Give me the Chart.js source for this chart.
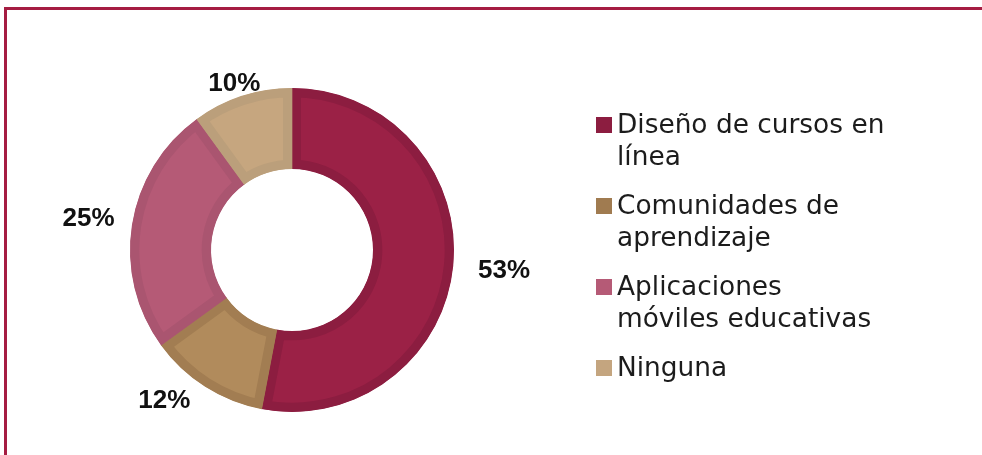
<!DOCTYPE html>
<html lang="es">
<head>
<meta charset="utf-8">
<title>Herramientas digitales</title>
<script src="https://cdn.jsdelivr.net/npm/chart.js@4.4.1/dist/chart.umd.min.js"></script>
<style>
    html, body { margin: 0; padding: 0; background: #fff; }
    body { width: 982px; height: 455px; position: relative; overflow: hidden; }
    .frame {
        position: absolute; left: 4px; top: 7px; right: -10px; bottom: -10px;
        border-top: 3px solid #a51d42; border-left: 3px solid #a51d42;
    }
    #chartWrap { position: absolute; left: 0; top: 0; width: 982px; height: 455px; }
    #legend {
        position: absolute; left: 596px; top: 108px; margin: 0; padding: 0; list-style: none;
        font-family: "DejaVu Sans", sans-serif; font-size: 26.4px; line-height: 32px; color: #1c1c1c;
    }
    #legend li { position: relative; padding-left: 21px; margin-bottom: 17px; white-space: nowrap; }
    #legend li span.sw {
        position: absolute; left: 0; top: 9px; width: 16px; height: 16px;
    }
</style>
</head>
<body>
<div class="frame"></div>
<div id="chartWrap"><canvas id="donut"></canvas></div>
<ul id="legend"></ul>
<script>
(function () {
    'use strict';

    var categories = ['Diseño de cursos en línea', 'Comunidades de aprendizaje', 'Aplicaciones móviles educativas', 'Ninguna'];
    // legend lines as they wrap next to the ring
    var legendLines = [['Diseño de cursos en', 'línea'], ['Comunidades de', 'aprendizaje'], ['Aplicaciones', 'móviles educativas'], ['Ninguna']];
    var percents = [53, 12, 25, 10];

    var fills = ['#9b2146', '#b18b5c', '#b55a76', '#c6a67f'];
    var edges = ['#8c1d40', '#a27d52', '#aa5570', '#bb9f7b'];
    var swatches = ['#8c1d40', '#a07b50', '#b55a76', '#c4a57f'];

    // percentage labels outside each slice; pull = px past the rim, turn = degrees along it
    var outsideLabels = {
        id: 'outsideLabels',
        afterDatasetsDraw: function (chart, args, opts) {
            var ctx = chart.ctx;
            var meta = chart.getDatasetMeta(0);
            ctx.save();
            ctx.font = 'bold 26px "Liberation Sans", Arial, sans-serif';
            ctx.fillStyle = '#111';
            ctx.textAlign = 'center';
            ctx.textBaseline = 'middle';
            meta.data.forEach(function (arc, i) {
                var p = arc.getProps(['x', 'y', 'startAngle', 'endAngle', 'outerRadius']);
                var mid = (p.startAngle + p.endAngle) / 2 + (opts.turn[i] || 0) * Math.PI / 180;
                var r = p.outerRadius + opts.pull[i];
                ctx.fillText(percents[i] + '%', p.x + Math.cos(mid) * r, p.y + Math.sin(mid) * r + 1);
            });
            ctx.restore();
        }
    };

    new Chart(document.getElementById('donut'), {
        type: 'doughnut',
        data: {
            labels: categories,
            datasets: [{
                data: percents,
                backgroundColor: fills,
                borderColor: edges,
                borderWidth: 9,
                borderAlign: 'inner',
                hoverOffset: 0
            }]
        },
        options: {
            responsive: true,
            maintainAspectRatio: false,
            animation: false,
            cutout: '50%',
            layout: { padding: { left: 130, right: 528, top: 88, bottom: 43 } },
            plugins: {
                legend: { display: false },
                tooltip: { enabled: false },
                outsideLabels: { pull: [51, 35, 44, 15], turn: [0, 8, 0, -1] }
            }
        },
        plugins: [outsideLabels]
    });

    var list = document.getElementById('legend');
    legendLines.forEach(function (lines, i) {
        var li = document.createElement('li');
        var sw = document.createElement('span');
        sw.className = 'sw';
        sw.style.background = swatches[i];
        li.appendChild(sw);
        li.appendChild(document.createTextNode(lines[0]));
        for (var k = 1; k < lines.length; k++) {
            li.appendChild(document.createElement('br'));
            li.appendChild(document.createTextNode(lines[k]));
        }
        list.appendChild(li);
    });
})();
</script>
</body>
</html>
